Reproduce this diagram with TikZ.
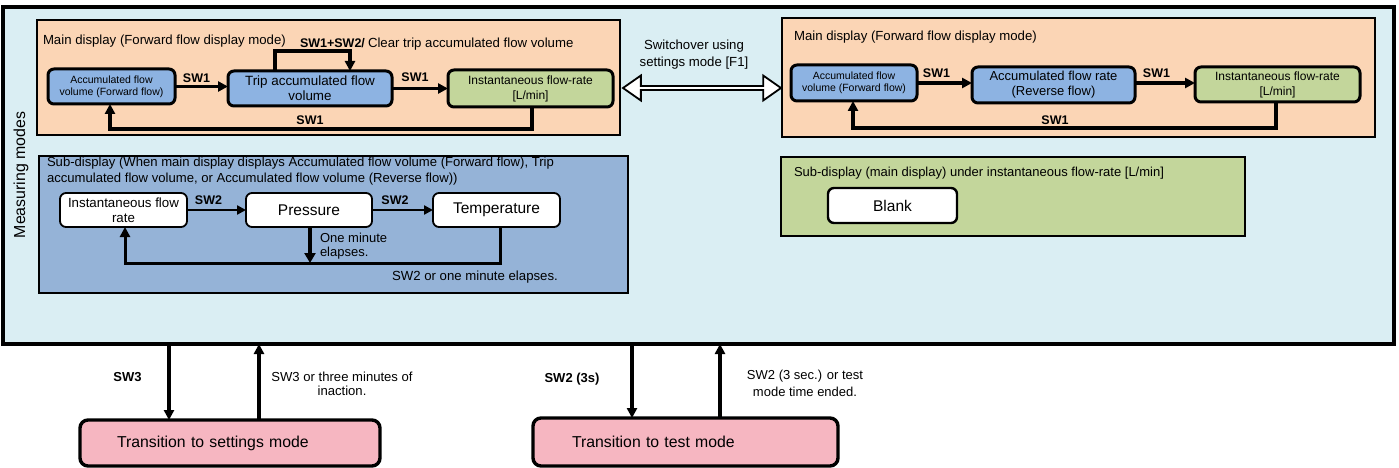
\documentclass[tikz,border=0pt]{standalone}
\usepackage{fontspec}
\setmainfont{Liberation Sans}
\usetikzlibrary{arrows.meta,shapes.arrows,calc}
\definecolor{outerblue}{HTML}{DAEEF3}
\definecolor{peach}{HTML}{FBD5B5}
\definecolor{nodeblue}{HTML}{8DB3E2}
\definecolor{subblue}{HTML}{95B3D7}
\definecolor{lgreen}{HTML}{C3D69B}
\definecolor{pinkbox}{HTML}{F6B6C1}
\newcommand\fs[2]{\fontsize{#1}{#2}\selectfont}
\begin{document}
\begin{tikzpicture}[x=1pt,y=-1pt,
  every node/.style={inner sep=0pt, outer sep=0pt},
  panel/.style={draw, anchor=north west},
  stbox/.style={draw, rounded corners=6pt, line width=3pt, align=center},
  wbox/.style={draw, rounded corners=6pt, line width=1.8pt, align=center, fill=white},
  conn/.style={line width=3.4pt, -{Triangle[length=10pt,width=10pt]}},
  thinconn/.style={line width=2.4pt, -{Triangle[length=9pt,width=9pt]}},
  sw/.style={font=\fs{12.5}{15}\bfseries},
  txt/.style={font=\fs{13.2}{16}},
]
\useasboundingbox (0,0) rectangle (1399,468);

% outer frame
\node[panel, line width=4pt, fill=outerblue, minimum width=1391pt, minimum height=337pt] (meas) at (3,7) {};
\node[rotate=90, font=\fs{15.9}{18}] (mm) at (21,175) {Measuring modes};

% panels
\node[panel, line width=1.8pt, fill=peach, minimum width=583pt, minimum height=115pt] (mainL) at (37,20) {};
\node[panel, line width=1.8pt, fill=peach, minimum width=593pt, minimum height=119pt] (mainR) at (782,18) {};
\node[panel, line width=1.4pt, fill=subblue, minimum width=589pt, minimum height=137pt] (subL) at (39,156) {};
\node[panel, line width=2.2pt, fill=lgreen, minimum width=464pt, minimum height=79pt] (subR) at (781,157) {};

% double arrow
\node[double arrow, draw, line width=1.8pt, fill=white, minimum height=158pt, minimum width=25pt,
      double arrow head extend=5pt, double arrow tip angle=70] (dbl) at (702,88) {};
\node[txt, align=center, font=\fs{13.2}{17}] (swo) at (694,55) {Switchover using\\settings mode [F1]};

% left main display
\node[txt, anchor=west] (tL) at (43,41) {Main display (Forward flow display mode)};
\node[sw, anchor=west] (s12) at (300,43) {SW1+SW2/};
\node[txt, anchor=west] (clr) at (368,44) {Clear trip accumulated flow volume};
\node[stbox, fill=nodeblue, minimum width=127pt, minimum height=35pt, font=\fs{10.5}{12}] (A1) at (111.5,86.5) {Accumulated flow\\volume (Forward flow)};
\node[stbox, fill=nodeblue, minimum width=164pt, minimum height=35pt, font=\fs{13.4}{15}] (A2) at (310,88.5) {Trip accumulated flow\\volume};
\node[stbox, fill=lgreen, minimum width=165pt, minimum height=37pt, font=\fs{12}{15}] (A3) at (530.5,88.5) {Instantaneous flow-rate\\{[L/min]}};
\draw[conn] (A1.east) -- (A1.east -| A2.west);
\draw[conn] (A2.east) -- (A2.east -| A3.west);
\coordinate (l1) at (275,51); \coordinate (l2) at (350,51);
\draw[conn] (A2.north -| l1) -- (l1) -- (l2) -- (A2.north -| l2);
\coordinate (r1) at (532,129); \coordinate (r2) at (110,129);
\draw[conn] (A3.south -| r1) -- (r1) -- (r2) -- (A1.south -| r2);
\node[sw] (sa1) at (196.5,78) {SW1};
\node[sw] (sa2) at (415,77) {SW1};
\node[sw] (sa3) at (310,120) {SW1};

% right main display
\node[txt, anchor=west] (tR) at (794,37) {Main display (Forward flow display mode)};
\node[stbox, fill=nodeblue, minimum width=126pt, minimum height=36pt, font=\fs{10.5}{12}] (B1) at (854,83) {Accumulated flow\\volume (Forward flow)};
\node[stbox, fill=nodeblue, minimum width=163pt, minimum height=36pt, font=\fs{13}{15}] (B2) at (1053.5,85) {Accumulated flow rate\\(Reverse flow)};
\node[stbox, fill=lgreen, minimum width=165pt, minimum height=35pt, font=\fs{12}{15}] (B3) at (1277.5,84.5) {Instantaneous flow-rate\\{[L/min]}};
\draw[conn] (B1.east) -- (B1.east -| B2.west);
\draw[conn] (B2.east |- B1.east) -- (B1.east -| B3.west);
\coordinate (r3) at (1276,128); \coordinate (r4) at (853,128);
\draw[conn] (B3.south -| r3) -- (r3) -- (r4) -- (B1.south -| r4);
\node[sw] (sb1) at (936.5,73) {SW1};
\node[sw] (sb2) at (1156.5,73) {SW1};
\node[sw] (sb3) at (1055,120) {SW1};

% left sub-display
\node[txt, anchor=north west, align=left, font=\fs{13.1}{16}] (subT) at (47,157.5) {Sub-display (When main display displays Accumulated flow volume (Forward flow), Trip\\accumulated flow volume, or Accumulated flow volume (Reverse flow))};
\node[wbox, minimum width=127pt, minimum height=34pt, font=\fs{13.3}{15.5}] (C1) at (123.5,210) {Instantaneous flow\\rate};
\node[wbox, minimum width=126pt, minimum height=34pt, font=\fs{15.5}{18}] (C2) at (309,210) {Pressure};
\node[wbox, minimum width=127pt, minimum height=34pt, font=\fs{15.5}{18}] (C3) at (496.5,210) {Temperature};
\draw[thinconn] (C1.east) -- (C2.west);
\draw[thinconn] (C2.east) -- (C3.west);
\node[sw] (sc1) at (208.5,200) {SW2};
\node[sw] (sc2) at (395,200) {SW2};
\coordinate (p1) at (310,263);
\draw[line width=4pt, -{Triangle[length=10pt,width=11pt]}] (C2.south -| p1) -- (p1);
\coordinate (q1) at (500,263); \coordinate (q2) at (125,263);
\draw[line width=3pt, -{Triangle[length=10pt,width=10pt]}] (C3.south -| q1) -- (q1) -- (q2) -- (C1.south -| q2);
\node[txt, anchor=north west, align=left, font=\fs{13}{14}] (om) at (320,233) {One minute\\elapses.};
\node[txt, anchor=west] (swe) at (392,277) {SW2 or one minute elapses.};

% right sub-display
\node[txt, anchor=west, font=\fs{13}{16}] (gT) at (794,173) {Sub-display (main display) under instantaneous flow-rate [L/min]};
\node[draw, rounded corners=6pt, line width=2.4pt, fill=white, minimum width=129pt, minimum height=35pt, font=\fs{15.5}{18}] (blank) at (892.5,205.5) {Blank};

% bottom transitions
\node[draw, rounded corners=8pt, line width=3.4pt, fill=pinkbox, minimum height=46pt, text width=226pt, inner xsep=37pt, align=left, font=\fs{15.8}{18}] (set) at (230,443) {Transition to settings mode};
\node[draw, rounded corners=8pt, line width=3.4pt, fill=pinkbox, minimum height=48pt, text width=227pt, inner xsep=39pt, align=left, font=\fs{15.8}{18}] (tst) at (685.5,442) {Transition to test mode};
\coordinate (d1) at (169,0); \coordinate (u1) at (259,0);
\coordinate (d2) at (632,0); \coordinate (u2) at (720,0);
\draw[conn] (meas.south -| d1) -- (set.north -| d1);
\draw[conn] (set.north -| u1) -- (meas.south -| u1);
\draw[conn] (meas.south -| d2) -- (tst.north -| d2);
\draw[conn] (tst.north -| u2) -- (meas.south -| u2);
\node[sw, font=\fs{13}{15}\bfseries] (sw3) at (127.5,377) {SW3};
\node[txt, align=center, font=\fs{13.1}{14}] (sw3t) at (342,384) {SW3 or three minutes of\\inaction.};
\node[sw, font=\fs{13}{15}\bfseries] (sw23) at (572,379) {SW2 (3s)};
\node[txt, align=center, font=\fs{13}{17}] (sw2t) at (805,383) {SW2 (3 sec.) or test\\mode time ended.};
\end{tikzpicture}
\end{document}
